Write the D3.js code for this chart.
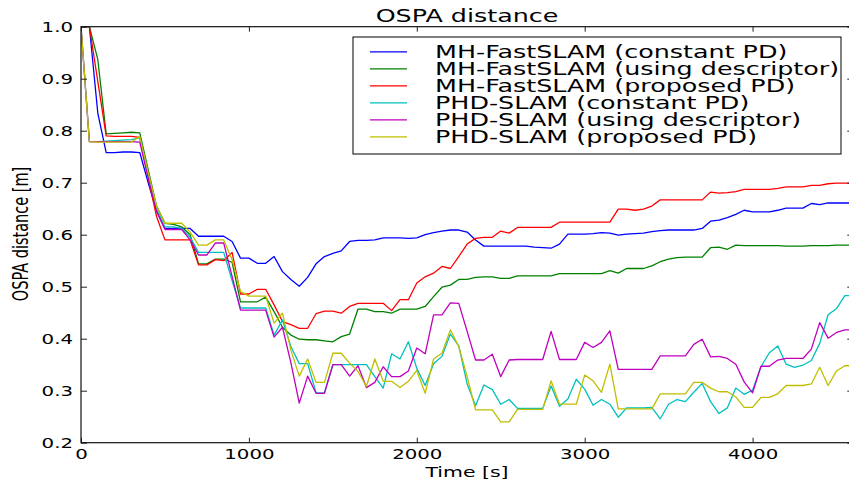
<!DOCTYPE html>
<html>
<head>
<meta charset="utf-8">
<script src="https://cdn.jsdelivr.net/npm/d3@7"></script>
<style>
  html, body { margin: 0; padding: 0; background: #fff; }
  svg { display: block; }
  text { font-family: "DejaVu Sans", sans-serif; fill: #000; }
</style>
</head>
<body>
<svg id="chart" width="849" height="487"></svg>
<script>
// Time stamps of each OSPA sample [s]
const timeSec = [0,50,100,150,200,250,300,350,400,450,500,550,600,650,700,750,800,850,900,950,
  1000,1050,1100,1150,1200,1250,1300,1350,1400,1450,1500,1550,1600,1650,1700,1750,1800,1850,1900,1950,
  2000,2050,2100,2150,2200,2250,2300,2350,2400,2450,2500,2550,2600,2650,2700,2750,2800,2850,2900,2950,
  3000,3050,3100,3150,3200,3250,3300,3350,3400,3450,3500,3550,3600,3650,3700,3750,3800,3850,3900,3950,
  4000,4050,4100,4150,4200,4250,4300,4350,4400,4450,4500,4550,4600];

const mhConstant = [1.0,1.0,0.834,0.758,0.758,0.759,0.759,0.758,0.700,0.645,
  0.612,0.612,0.612,0.612,0.597,0.597,0.597,0.597,0.587,0.555,
  0.555,0.545,0.545,0.558,0.529,0.514,0.501,0.518,0.544,0.558,
  0.564,0.569,0.587,0.589,0.589,0.590,0.594,0.594,0.594,0.593,
  0.594,0.600,0.604,0.607,0.609,0.609,0.605,0.590,0.578,0.578,
  0.578,0.578,0.578,0.578,0.576,0.575,0.574,0.582,0.601,0.601,
  0.601,0.602,0.604,0.603,0.599,0.601,0.602,0.603,0.606,0.608,
  0.609,0.609,0.609,0.609,0.612,0.626,0.628,0.633,0.639,0.647,
  0.644,0.644,0.644,0.647,0.651,0.651,0.651,0.660,0.658,0.661,
  0.661,0.661,0.661];

const mhDescriptor = [1.0,1.0,0.937,0.794,0.795,0.796,0.797,0.796,0.725,0.655,
  0.622,0.620,0.615,0.600,0.544,0.544,0.553,0.553,0.547,0.471,
  0.471,0.471,0.480,0.452,0.422,0.407,0.399,0.398,0.398,0.396,
  0.394,0.404,0.409,0.457,0.457,0.452,0.452,0.449,0.457,0.457,
  0.457,0.462,0.481,0.499,0.503,0.514,0.514,0.518,0.519,0.519,
  0.516,0.516,0.521,0.521,0.521,0.521,0.521,0.525,0.525,0.525,
  0.525,0.525,0.525,0.531,0.526,0.535,0.535,0.535,0.540,0.548,
  0.553,0.556,0.557,0.557,0.557,0.575,0.576,0.572,0.580,0.579,
  0.579,0.579,0.579,0.579,0.578,0.578,0.578,0.579,0.579,0.579,
  0.580,0.580,0.580];

const mhProposed = [1.0,1.0,0.895,0.790,0.789,0.789,0.789,0.787,0.710,0.635,
  0.590,0.590,0.590,0.590,0.542,0.542,0.552,0.550,0.566,0.486,
  0.486,0.495,0.495,0.465,0.433,0.427,0.420,0.420,0.448,0.453,
  0.453,0.449,0.462,0.468,0.468,0.468,0.468,0.454,0.475,0.475,
  0.507,0.519,0.526,0.539,0.535,0.558,0.582,0.593,0.595,0.595,
  0.607,0.603,0.614,0.614,0.614,0.614,0.614,0.624,0.624,0.624,
  0.624,0.624,0.624,0.624,0.649,0.649,0.647,0.649,0.655,0.667,
  0.667,0.667,0.667,0.667,0.667,0.682,0.680,0.681,0.683,0.687,
  0.687,0.687,0.687,0.689,0.692,0.692,0.692,0.695,0.695,0.698,
  0.699,0.699,0.699];

const phdConstant = [1.0,0.779,0.779,0.780,0.781,0.782,0.783,0.786,0.715,0.650,
  0.615,0.615,0.612,0.595,0.566,0.566,0.566,0.566,0.512,0.459,
  0.459,0.459,0.459,0.407,0.436,0.385,0.352,0.352,0.296,0.296,
  0.350,0.350,0.350,0.350,0.350,0.327,0.305,0.371,0.361,0.394,
  0.343,0.310,0.352,0.366,0.409,0.386,0.313,0.271,0.311,0.302,
  0.274,0.283,0.266,0.266,0.266,0.266,0.309,0.270,0.284,0.322,
  0.303,0.272,0.283,0.274,0.249,0.267,0.267,0.267,0.268,0.246,
  0.274,0.283,0.279,0.297,0.314,0.279,0.256,0.267,0.305,0.293,
  0.301,0.346,0.373,0.386,0.351,0.345,0.349,0.358,0.391,0.446,
  0.458,0.483,0.483];

const phdDescriptor = [1.0,0.779,0.779,0.779,0.779,0.779,0.779,0.778,0.710,0.645,
  0.610,0.610,0.610,0.590,0.561,0.561,0.584,0.584,0.520,0.455,
  0.455,0.455,0.455,0.403,0.422,0.354,0.276,0.328,0.295,0.295,
  0.350,0.350,0.328,0.348,0.306,0.316,0.346,0.327,0.327,0.338,
  0.382,0.371,0.446,0.446,0.469,0.468,0.414,0.359,0.359,0.370,
  0.327,0.359,0.360,0.360,0.360,0.360,0.414,0.360,0.360,0.360,
  0.393,0.383,0.393,0.415,0.341,0.341,0.341,0.341,0.341,0.367,
  0.367,0.367,0.367,0.389,0.399,0.365,0.366,0.362,0.351,0.317,
  0.296,0.347,0.347,0.359,0.362,0.362,0.362,0.380,0.431,0.401,
  0.412,0.417,0.417];

const phdProposed = [1.0,0.779,0.778,0.778,0.778,0.778,0.778,0.789,0.720,0.655,
  0.622,0.622,0.622,0.605,0.580,0.580,0.590,0.590,0.552,0.491,
  0.482,0.482,0.482,0.430,0.449,0.378,0.328,0.361,0.316,0.316,
  0.372,0.372,0.353,0.337,0.308,0.361,0.318,0.318,0.306,0.318,
  0.339,0.295,0.361,0.372,0.417,0.385,0.327,0.263,0.263,0.263,
  0.240,0.240,0.264,0.264,0.264,0.264,0.319,0.274,0.274,0.274,
  0.330,0.319,0.297,0.351,0.265,0.265,0.265,0.265,0.265,0.294,
  0.294,0.294,0.294,0.316,0.316,0.305,0.298,0.298,0.288,0.268,
  0.268,0.287,0.287,0.294,0.310,0.310,0.310,0.313,0.345,0.310,
  0.338,0.348,0.348];

const seriesNames = [
  "MH-FastSLAM (constant PD)",
  "MH-FastSLAM (using descriptor)",
  "MH-FastSLAM (proposed PD)",
  "PHD-SLAM (constant PD)",
  "PHD-SLAM (using descriptor)",
  "PHD-SLAM (proposed PD)"
];
const seriesValues = [mhConstant, mhDescriptor, mhProposed, phdConstant, phdDescriptor, phdProposed];
const seriesColors = ["#0000ff", "#008000", "#ff0000", "#00bfbf", "#bf00bf", "#bfbf00"];

const xTicks = [0, 1000, 2000, 3000, 4000];
const yTicks = [0.2, 0.3, 0.4, 0.5, 0.6, 0.7, 0.8, 0.9, 1.0];

// Layout; text is widened horizontally to the figure's aspect
const SX = 1.41;
const plotL = 81, plotR = 853.3, plotT = 26.7, plotB = 442.7;

const svg = d3.select("#chart");
const x = d3.scaleLinear().domain([0, 4600]).range([plotL, plotR]);
const y = d3.scaleLinear().domain([0.2, 1.0]).range([plotB, plotT]);

function wideText(g, tx, ty, str, size, anchor, rotate) {
  return g.append("text")
    .attr("transform", `translate(${tx},${ty}) scale(${SX},1)` + (rotate ? ` rotate(${rotate})` : ""))
    .attr("text-anchor", anchor)
    .style("font-size", size + "px")
    .text(str);
}

// Data lines, clipped to the axes box
svg.append("clipPath").attr("id", "plotClip")
  .append("rect").attr("x", plotL).attr("y", plotT)
  .attr("width", plotR - plotL).attr("height", plotB - plotT);

const line = d3.line().x((d, i) => x(timeSec[i])).y(d => y(d));
const linesG = svg.append("g").attr("clip-path", "url(#plotClip)");
seriesValues.forEach((vals, i) => {
  linesG.append("path")
    .datum(vals)
    .attr("d", line)
    .attr("fill", "none")
    .attr("stroke", seriesColors[i])
    .attr("stroke-width", 1.3)
    .attr("stroke-linejoin", "round");
});

// Axes (ticks point inward on all four sides)
const axB = svg.append("g").attr("transform", `translate(0,${plotB})`)
  .call(d3.axisBottom(x).tickValues(xTicks).tickSizeInner(-5).tickSizeOuter(0).tickFormat(d3.format("d")));
axB.selectAll("text")
  .attr("y", null).attr("dy", null)
  .attr("transform", `translate(0,16.3) scale(${SX},1)`)
  .style("font-size", "14px");

const axL = svg.append("g").attr("transform", `translate(${plotL},0)`)
  .call(d3.axisLeft(y).tickValues(yTicks).tickSizeInner(-6).tickSizeOuter(0).tickFormat(d3.format(".1f")));
axL.selectAll("text")
  .attr("x", null)
  .attr("transform", `translate(-8,0) scale(${SX},1)`)
  .style("font-size", "14px");

svg.append("g").attr("transform", `translate(0,${plotT})`)
  .call(d3.axisTop(x).tickValues(xTicks).tickSizeInner(-5).tickSizeOuter(0).tickFormat(""));
svg.append("g").attr("transform", `translate(${plotR},0)`)
  .call(d3.axisRight(y).tickValues(yTicks).tickSizeInner(-6).tickSizeOuter(0).tickFormat(""));

svg.selectAll(".domain").remove();
svg.selectAll(".tick line").attr("stroke", "#222").attr("stroke-width", 1);

// Axes frame
svg.append("rect")
  .attr("x", plotL).attr("y", plotT)
  .attr("width", plotR - plotL).attr("height", plotB - plotT)
  .attr("fill", "none").attr("stroke", "#111").attr("stroke-width", 1.2);

// Title and axis labels
wideText(svg, 467, 22, "OSPA distance", 18, "middle");
wideText(svg, 467, 477, "Time [s]", 14.5, "middle");
wideText(svg, 27.5, 234, "OSPA distance [m]", 14.5, "middle", -90);

// Legend
const lg = svg.append("g");
lg.append("rect")
  .attr("x", 353).attr("y", 37).attr("width", 488).attr("height", 117)
  .attr("fill", "#fff").attr("stroke", "#000").attr("stroke-width", 1);
seriesNames.forEach((name, i) => {
  const base = 57.8 + i * 17;
  lg.append("line")
    .attr("x1", 370).attr("x2", 407)
    .attr("y1", base - 6).attr("y2", base - 6)
    .attr("stroke", seriesColors[i]).attr("stroke-width", 1.3);
  wideText(lg, 435, base, name, 18, "start");
});
</script>
</body>
</html>
